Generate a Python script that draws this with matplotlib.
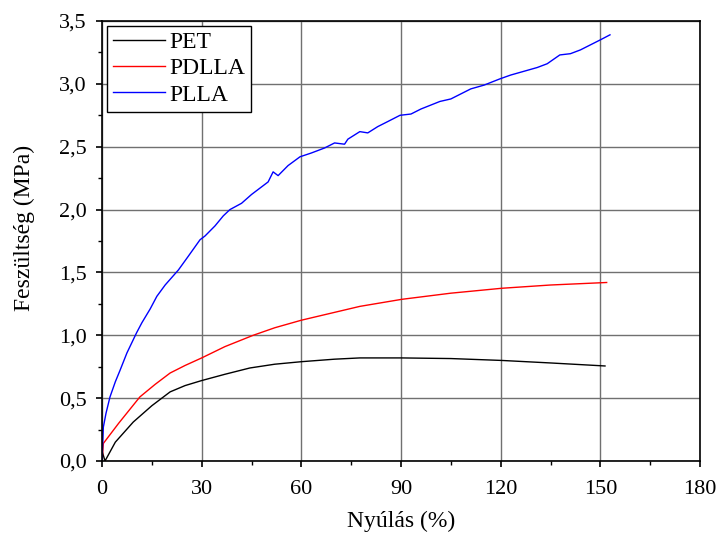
import matplotlib.pyplot as plt
from matplotlib.ticker import MultipleLocator, FuncFormatter

plt.rcParams['font.family'] = ['Liberation Serif', 'DejaVu Serif']

# PET
pet_x = [0.0, 0.9, 4.0, 9.4, 15.0, 20.5, 25.0, 30.0, 37.0, 44.5, 52.0, 60.0, 70.0,
         77.6, 90.2, 105.0, 120.3, 135.0, 151.4]
pet_y = [0.08, 0.0, 0.15, 0.31, 0.44, 0.55, 0.60, 0.64, 0.69, 0.74, 0.77, 0.79, 0.81,
         0.82, 0.82, 0.815, 0.80, 0.78, 0.756]

# PDLLA
pdlla_x = [0.0, 0.4, 5.0, 11.4, 16.0, 20.5, 25.0, 30.0, 37.0, 45.5, 52.0, 60.0, 68.0,
           77.6, 90.2, 105.0, 120.3, 135.0, 151.9]
pdlla_y = [0.0, 0.14, 0.30, 0.51, 0.61, 0.70, 0.76, 0.82, 0.91, 1.00, 1.06, 1.12, 1.17,
           1.23, 1.286, 1.335, 1.374, 1.40, 1.42]

# PLLA
plla_x = [0.0, 0.4, 1.2, 2.4, 4.0, 5.4, 7.5, 10.4, 12.0, 14.5, 16.5, 19.0, 21.0, 23.0,
          26.0, 29.5, 31.0, 34.0, 36.5, 38.5, 42.0, 45.0, 48.0, 50.0, 51.5, 53.0,
          56.0, 59.6, 63.0, 67.0, 70.0, 73.0, 74.0, 77.6, 80.0, 83.0, 86.0, 89.7,
          93.0, 96.0, 101.7, 105.0, 108.0, 111.0, 115.0, 119.8, 123.0, 127.0,
          131.0, 134.0, 137.8, 141.0, 144.0, 147.0, 150.0, 152.9]
plla_y = [0.0, 0.27, 0.38, 0.51, 0.63, 0.72, 0.86, 1.02, 1.10, 1.21, 1.31, 1.40, 1.46,
          1.52, 1.63, 1.76, 1.79, 1.87, 1.95, 2.00, 2.05, 2.12, 2.18, 2.22, 2.30, 2.27,
          2.35, 2.42, 2.45, 2.49, 2.53, 2.52, 2.56, 2.62, 2.61, 2.66, 2.70, 2.75,
          2.76, 2.80, 2.86, 2.88, 2.92, 2.96, 2.99, 3.04, 3.07, 3.10, 3.13, 3.16,
          3.23, 3.24, 3.27, 3.31, 3.35, 3.39]

fig = plt.figure(figsize=(7.19, 5.37), dpi=100)
ax = fig.add_axes([0.1419, 0.1415, 0.8317, 0.8194])

ax.plot(pet_x, pet_y, color='black', lw=1.0, label='PET')
ax.plot(pdlla_x, pdlla_y, color='red', lw=1.0, label='PDLLA')
ax.plot(plla_x, plla_y, color='blue', lw=1.0, label='PLLA')

ax.set_xlim(0, 180)
ax.set_ylim(0, 3.5)
ax.xaxis.set_major_locator(MultipleLocator(30))
ax.xaxis.set_minor_locator(MultipleLocator(15))
ax.yaxis.set_major_locator(MultipleLocator(0.5))
ax.yaxis.set_minor_locator(MultipleLocator(0.25))
ax.yaxis.set_major_formatter(FuncFormatter(lambda v, p: f'{v:.1f}'.replace('.', ',')))

ax.grid(True, which='major', color='#707070', lw=1.0)
ax.tick_params(which='both', direction='out', top=False, right=False, labelsize=16)
ax.tick_params(which='major', length=4, width=1.2, pad=7)
ax.tick_params(axis='x', which='major', pad=10)
ax.tick_params(which='minor', length=3, width=1)
for s in ax.spines.values():
    s.set_linewidth(1.2)

ax.set_xlabel('Nyúlás (%)', fontsize=17, labelpad=8)
ax.set_ylabel('Feszültség (MPa)', fontsize=17, labelpad=14)
ax.yaxis.set_label_coords(-0.112, 0.53)

leg = ax.legend(loc='upper left', fontsize=17, fancybox=False, framealpha=1,
                edgecolor='black', borderaxespad=0.2, borderpad=0.25,
                handlelength=2.2, labelspacing=0.2, handletextpad=0.2)
leg.get_frame().set_linewidth(1.0)

fig.savefig('out.png', dpi=100)
